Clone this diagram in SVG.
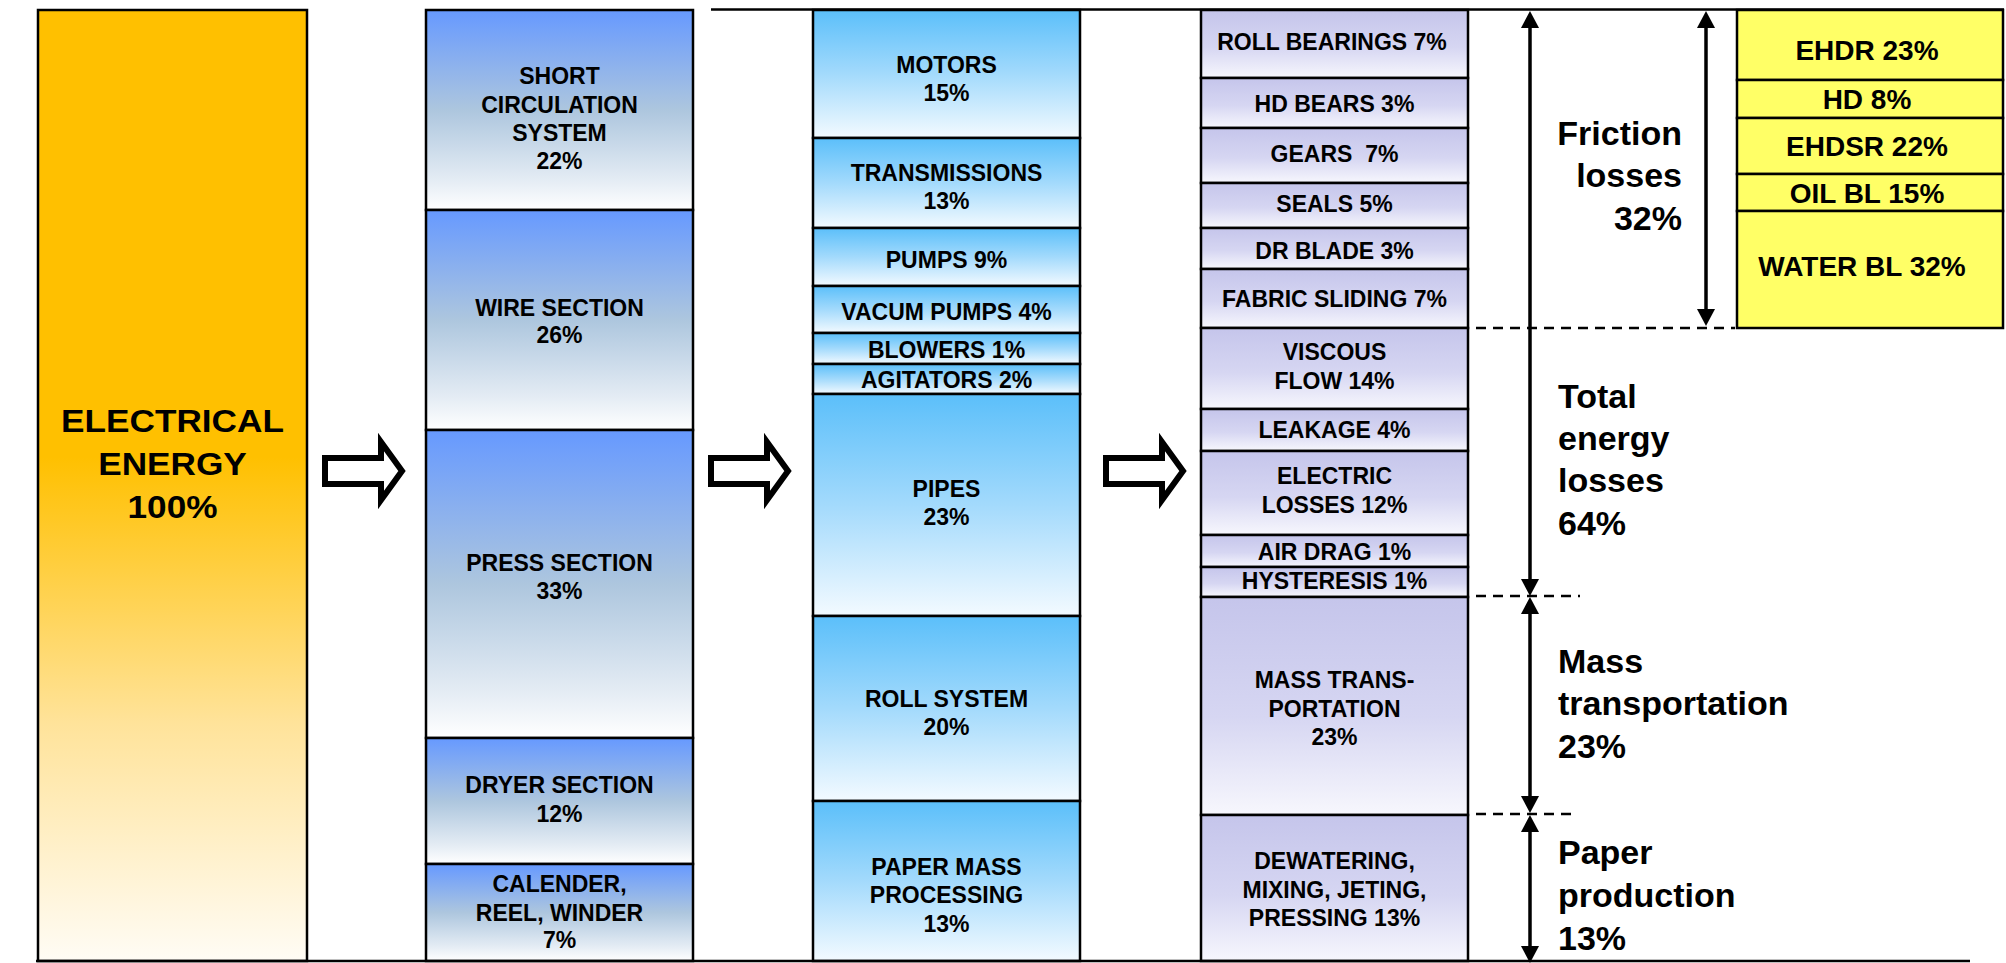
<svg xmlns="http://www.w3.org/2000/svg" width="2006" height="963" viewBox="0 0 2006 963">
<defs>
<linearGradient id="gE" x1="0" y1="0" x2="0" y2="1">
<stop offset="0" stop-color="#FFC000"/><stop offset="0.47" stop-color="#FFC000"/><stop offset="0.75" stop-color="#FFE39A"/><stop offset="1" stop-color="#FFFCF5"/>
</linearGradient>
<linearGradient id="g2" x1="0" y1="0" x2="0" y2="1">
<stop offset="0" stop-color="#6699FF"/><stop offset="0.5" stop-color="#ADC6DE"/><stop offset="0.85" stop-color="#E4ECF4"/><stop offset="1" stop-color="#FFFFFF"/>
</linearGradient>
<linearGradient id="g3" x1="0" y1="0" x2="0" y2="1">
<stop offset="0" stop-color="#5BBFFA"/><stop offset="0.5" stop-color="#A3DAFC"/><stop offset="1" stop-color="#F3FAFF"/>
</linearGradient>
<linearGradient id="g4" x1="0" y1="0" x2="0" y2="1">
<stop offset="0" stop-color="#C5C5EB"/><stop offset="0.55" stop-color="#D6D6F2"/><stop offset="1" stop-color="#F7F7FD"/>
</linearGradient>
<marker id="ah" viewBox="0 0 17 18" refX="9" refY="9" markerWidth="17" markerHeight="18" markerUnits="userSpaceOnUse" orient="auto-start-reverse">
<path d="M0,0 L17,9 L0,18 Z" fill="#000"/>
</marker>
<style>
text{font-family:"Liberation Sans",Arial,sans-serif;font-weight:bold;fill:#000;}
.c{text-anchor:middle;font-size:23px;}
.big{text-anchor:middle;font-size:32px;}
.y{text-anchor:middle;font-size:28px;}
.lab{font-size:34px;}
.e{text-anchor:end;}
.cell{stroke:#000;stroke-width:2.5;}
.c1{fill:url(#gE);}
.c2{fill:url(#g2);}
.c3{fill:url(#g3);}
.c4{fill:url(#g4);}
.cy{fill:#FFFF66;}
.blk{fill:#fff;stroke:#000;stroke-width:6;stroke-linejoin:miter;}
.dim{stroke:#000;stroke-width:3.5;fill:none;}
.dash{stroke:#000;stroke-width:2.5;stroke-dasharray:10 7;fill:none;}
.rule{stroke:#000;stroke-width:2.5;fill:none;}
</style>
</defs>
<rect width="2006" height="963" fill="#fff"/>

<g id="electrical">
<rect class="cell c1" x="38" y="10" width="269" height="951"/>
<text class="big" transform="translate(172.5 0) scale(1.1 1)" x="0" y="432">ELECTRICAL</text>
<text class="big" transform="translate(172.5 0) scale(1.1 1)" x="0" y="475">ENERGY</text>
<text class="big" transform="translate(172.5 0) scale(1.1 1)" x="0" y="518">100%</text>
</g>

<g id="short-circulation"><rect class="cell c2" x="426" y="10" width="267" height="200"/>
<text class="c" x="559.5" y="84">SHORT</text><text class="c" x="559.5" y="113">CIRCULATION</text><text class="c" x="559.5" y="141">SYSTEM</text><text class="c" x="559.5" y="169">22%</text></g>
<g id="wire-section"><rect class="cell c2" x="426" y="210" width="267" height="220"/>
<text class="c" x="559.5" y="316">WIRE SECTION</text><text class="c" x="559.5" y="343">26%</text></g>
<g id="press-section"><rect class="cell c2" x="426" y="430" width="267" height="308"/>
<text class="c" x="559.5" y="571">PRESS SECTION</text><text class="c" x="559.5" y="599">33%</text></g>
<g id="dryer-section"><rect class="cell c2" x="426" y="738" width="267" height="126"/>
<text class="c" x="559.5" y="793">DRYER SECTION</text><text class="c" x="559.5" y="822">12%</text></g>
<g id="calender"><rect class="cell c2" x="426" y="864" width="267" height="97"/>
<text class="c" x="559.5" y="892">CALENDER,</text><text class="c" x="559.5" y="921">REEL, WINDER</text><text class="c" x="559.5" y="948">7%</text></g>

<g id="motors"><rect class="cell c3" x="813" y="10" width="267" height="128"/>
<text class="c" x="946.5" y="73">MOTORS</text><text class="c" x="946.5" y="101">15%</text></g>
<g id="transmissions"><rect class="cell c3" x="813" y="138" width="267" height="90"/>
<text class="c" x="946.5" y="181">TRANSMISSIONS</text><text class="c" x="946.5" y="209">13%</text></g>
<g id="pumps"><rect class="cell c3" x="813" y="228" width="267" height="58"/>
<text class="c" x="946.5" y="268">PUMPS 9%</text></g>
<g id="vacum-pumps"><rect class="cell c3" x="813" y="286" width="267" height="47"/>
<text class="c" x="946.5" y="320">VACUM PUMPS 4%</text></g>
<g id="blowers"><rect class="cell c3" x="813" y="333" width="267" height="31"/>
<text class="c" x="946.5" y="358">BLOWERS 1%</text></g>
<g id="agitators"><rect class="cell c3" x="813" y="364" width="267" height="30"/>
<text class="c" x="946.5" y="388">AGITATORS 2%</text></g>
<g id="pipes"><rect class="cell c3" x="813" y="394" width="267" height="222"/>
<text class="c" x="946.5" y="497">PIPES</text><text class="c" x="946.5" y="525">23%</text></g>
<g id="roll-system"><rect class="cell c3" x="813" y="616" width="267" height="185"/>
<text class="c" x="946.5" y="707">ROLL SYSTEM</text><text class="c" x="946.5" y="735">20%</text></g>
<g id="paper-mass"><rect class="cell c3" x="813" y="801" width="267" height="160"/>
<text class="c" x="946.5" y="875">PAPER MASS</text><text class="c" x="946.5" y="903">PROCESSING</text><text class="c" x="946.5" y="932">13%</text></g>

<g id="roll-bearings"><rect class="cell c4" x="1201" y="10" width="267" height="68"/>
<text class="c" x="1332" y="50">ROLL BEARINGS 7%</text></g>
<g id="hd-bears"><rect class="cell c4" x="1201" y="78" width="267" height="50"/>
<text class="c" x="1334.5" y="112">HD BEARS 3%</text></g>
<g id="gears"><rect class="cell c4" x="1201" y="128" width="267" height="55"/>
<text class="c" x="1334.5" y="162" xml:space="preserve">GEARS  7%</text></g>
<g id="seals"><rect class="cell c4" x="1201" y="183" width="267" height="45"/>
<text class="c" x="1334.5" y="212">SEALS 5%</text></g>
<g id="dr-blade"><rect class="cell c4" x="1201" y="228" width="267" height="41"/>
<text class="c" x="1334.5" y="259">DR BLADE 3%</text></g>
<g id="fabric-sliding"><rect class="cell c4" x="1201" y="269" width="267" height="59"/>
<text class="c" x="1334.5" y="307">FABRIC SLIDING 7%</text></g>
<g id="viscous-flow"><rect class="cell c4" x="1201" y="328" width="267" height="81"/>
<text class="c" x="1334.5" y="360">VISCOUS</text><text class="c" x="1334.5" y="389">FLOW 14%</text></g>
<g id="leakage"><rect class="cell c4" x="1201" y="409" width="267" height="42"/>
<text class="c" x="1334.5" y="438">LEAKAGE 4%</text></g>
<g id="electric-losses"><rect class="cell c4" x="1201" y="451" width="267" height="84"/>
<text class="c" x="1334.5" y="484">ELECTRIC</text><text class="c" x="1334.5" y="513">LOSSES 12%</text></g>
<g id="air-drag"><rect class="cell c4" x="1201" y="535" width="267" height="32"/>
<text class="c" x="1334.5" y="560">AIR DRAG 1%</text></g>
<g id="hysteresis"><rect class="cell c4" x="1201" y="567" width="267" height="30"/>
<text class="c" x="1334.5" y="589">HYSTERESIS 1%</text></g>
<g id="mass-transportation"><rect class="cell c4" x="1201" y="597" width="267" height="218"/>
<text class="c" x="1334.5" y="688">MASS TRANS-</text><text class="c" x="1334.5" y="717">PORTATION</text><text class="c" x="1334.5" y="745">23%</text></g>
<g id="dewatering"><rect class="cell c4" x="1201" y="815" width="267" height="146"/>
<text class="c" x="1334.5" y="869">DEWATERING,</text><text class="c" x="1334.5" y="898">MIXING, JETING,</text><text class="c" x="1334.5" y="926">PRESSING 13%</text></g>

<g id="ehdr"><rect class="cell cy" x="1737" y="10" width="266" height="70"/>
<text class="y" x="1867" y="60">EHDR 23%</text></g>
<g id="hd"><rect class="cell cy" x="1737" y="80" width="266" height="38"/>
<text class="y" x="1867" y="109">HD 8%</text></g>
<g id="ehdsr"><rect class="cell cy" x="1737" y="118" width="266" height="56"/>
<text class="y" x="1867" y="156">EHDSR 22%</text></g>
<g id="oil-bl"><rect class="cell cy" x="1737" y="174" width="266" height="37"/>
<text class="y" x="1867" y="203">OIL BL 15%</text></g>
<g id="water-bl"><rect class="cell cy" x="1737" y="211" width="266" height="117"/>
<text class="y" x="1862" y="276">WATER BL 32%</text></g>

<g id="label-friction">
<text class="lab e" x="1682" y="145">Friction</text><text class="lab e" x="1682" y="187">losses</text><text class="lab e" x="1682" y="230">32%</text>
</g>
<g id="label-total">
<text class="lab" x="1558" y="408">Total</text><text class="lab" x="1558" y="450">energy</text><text class="lab" x="1558" y="492">losses</text><text class="lab" x="1558" y="535">64%</text>
</g>
<g id="label-mass">
<text class="lab" x="1558" y="673">Mass</text><text class="lab" x="1558" y="715">transportation</text><text class="lab" x="1558" y="758">23%</text>
</g>
<g id="label-paper">
<text class="lab" x="1558" y="864">Paper</text><text class="lab" x="1558" y="907">production</text><text class="lab" x="1558" y="950">13%</text>
</g>

<g id="connectors">
<path class="blk" d="M325,458 H381 V442 L402,471 L381,500 V484 H325 Z"/>
<path class="blk" transform="translate(386 0)" d="M325,458 H381 V442 L402,471 L381,500 V484 H325 Z"/>
<path class="blk" transform="translate(781 0)" d="M325,458 H381 V442 L402,471 L381,500 V484 H325 Z"/>
<line class="rule" x1="711" y1="9.5" x2="2004" y2="9.5"/>
<line class="rule" x1="36" y1="961" x2="1970" y2="961"/>
<line class="dash" x1="1476" y1="328" x2="1735" y2="328"/>
<line class="dash" x1="1476" y1="596" x2="1580" y2="596"/>
<line class="dash" x1="1476" y1="814" x2="1572" y2="814"/>
<line class="dim" x1="1530" y1="19" x2="1530" y2="588" marker-start="url(#ah)" marker-end="url(#ah)"/>
<line class="dim" x1="1706" y1="19" x2="1706" y2="318" marker-start="url(#ah)" marker-end="url(#ah)"/>
<line class="dim" x1="1530" y1="605" x2="1530" y2="805" marker-start="url(#ah)" marker-end="url(#ah)"/>
<line class="dim" x1="1530" y1="823" x2="1530" y2="955" marker-start="url(#ah)" marker-end="url(#ah)"/>
</g>
</svg>
